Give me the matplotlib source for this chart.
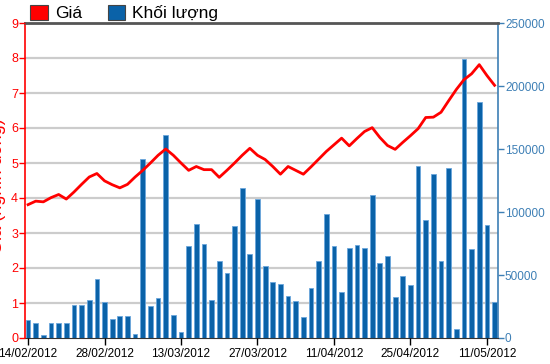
import matplotlib
matplotlib.use("Agg")
import matplotlib.pyplot as plt
from matplotlib.patches import Patch

# gia (nghin dong) theo phien, 14/02/2012 -> 14/05/2012
gia = [3.81, 3.91, 3.89, 4.01, 4.10, 3.97, 4.17, 4.39, 4.60, 4.70,
       4.49, 4.38, 4.29, 4.39, 4.60, 4.79, 5.00, 5.22, 5.40, 5.22,
       5.00, 4.79, 4.90, 4.81, 4.81, 4.59, 4.79, 5.00, 5.22, 5.42,
       5.22, 5.10, 4.90, 4.68, 4.90, 4.79, 4.68, 4.89, 5.11, 5.33,
       5.52, 5.71, 5.49, 5.70, 5.90, 6.01, 5.73, 5.50, 5.39, 5.59,
       5.78, 5.98, 6.30, 6.31, 6.45, 6.78, 7.10, 7.38, 7.55, 7.81,
       7.50, 7.22]

khoi_luong = [14000, 11900, 2100, 11600, 11600, 11600, 25900, 25900, 29900, 47100,
              28600, 14800, 17200, 17200, 2900, 142300, 25100, 32000, 161400, 18000,
              4800, 73000, 90200, 74900, 30400, 61100, 51900, 88900, 119000, 66900,
              110000, 56900, 44700, 42900, 33100, 29600, 16900, 39900, 61100, 98100,
              73000, 36500, 71700, 73500, 71700, 113200, 59800, 64800, 32800, 48900,
              41800, 136200, 93900, 130100, 61100, 135200, 7400, 221400, 70900, 187300,
              89900, 28600]

tick_idx = [0, 10, 20, 30, 40, 50, 60]
tick_labels = ["14/02/2012", "28/02/2012", "13/03/2012", "27/03/2012",
               "11/04/2012", "25/04/2012", "11/05/2012"]

red = "#ff0000"
blue = "#0a62a8"
axis_blue = "#3d7fb5"

x = list(range(len(gia)))

fig = plt.figure(figsize=(5.5, 3.64), dpi=100)
ax = fig.add_axes([25/550, 1-338/364, 473/550, 315/364])
ax2 = ax.twinx()

# volume bars behind the price line
ax.set_zorder(ax2.get_zorder() + 1)
ax.patch.set_visible(False)

ax2.bar(x, khoi_luong, width=0.62, color=blue, edgecolor="#6aa6dc",
        linewidth=0.6, zorder=2)
ax2.set_ylim(0, 250000)
ax2.set_yticks(range(0, 250001, 50000))

ax.plot(x, gia, color=red, linewidth=2.0, solid_joinstyle="round", zorder=3)
ax.set_ylim(0, 9)
ax.set_yticks(range(0, 10))
ax.set_xlim(-0.4, 61.45)
ax.set_xticks(tick_idx)
ax.set_xticklabels(tick_labels)

for v in range(1, 9):
    ax2.axhline(v * 250000 / 9, color="#cccccc", linewidth=1.6, zorder=1)

for s in ["left", "right", "top", "bottom"]:
    ax.spines[s].set_visible(False)
ax2.spines["left"].set_color(red)
ax2.spines["left"].set_linewidth(1.2)
ax2.spines["right"].set_color(axis_blue)
ax2.spines["right"].set_linewidth(1.2)
ax2.spines["top"].set_color("#555555")
ax2.spines["top"].set_linewidth(2)
ax2.spines["bottom"].set_color("#333333")
ax2.spines["bottom"].set_linewidth(0.8)

fnt = "Liberation Sans"
ax.tick_params(axis="y", colors=red, labelsize=9, length=4, width=1, pad=1)
ax.tick_params(axis="x", colors="black", labelsize=8.5, length=5, width=1, pad=2)
ax2.tick_params(axis="y", colors=axis_blue, labelsize=8.5, length=4, width=1, pad=1)
for lab in ax.get_yticklabels() + ax.get_xticklabels() + ax2.get_yticklabels():
    lab.set_fontfamily(fnt)

# axis title on the far left, cut off by the edge like in the original
fig.text(-0.006, 0.49, "Giá (nghìn đồng)", rotation=90, color=red,
         fontsize=13, ha="center", va="center", family=fnt)

handles = [Patch(facecolor=red, edgecolor="#444444", linewidth=0.8),
           Patch(facecolor=blue, edgecolor="#444444", linewidth=0.8)]
fig.legend(handles, ["Giá", "Khối lượng"], loc="upper left",
           bbox_to_anchor=(0.027, 1.03), ncol=2, frameon=False,
           prop={"family": fnt, "size": 12.5}, handlelength=1.0, handleheight=1.0,
           handletextpad=0.4, columnspacing=1.5)

fig.savefig("out.png", dpi=100)
